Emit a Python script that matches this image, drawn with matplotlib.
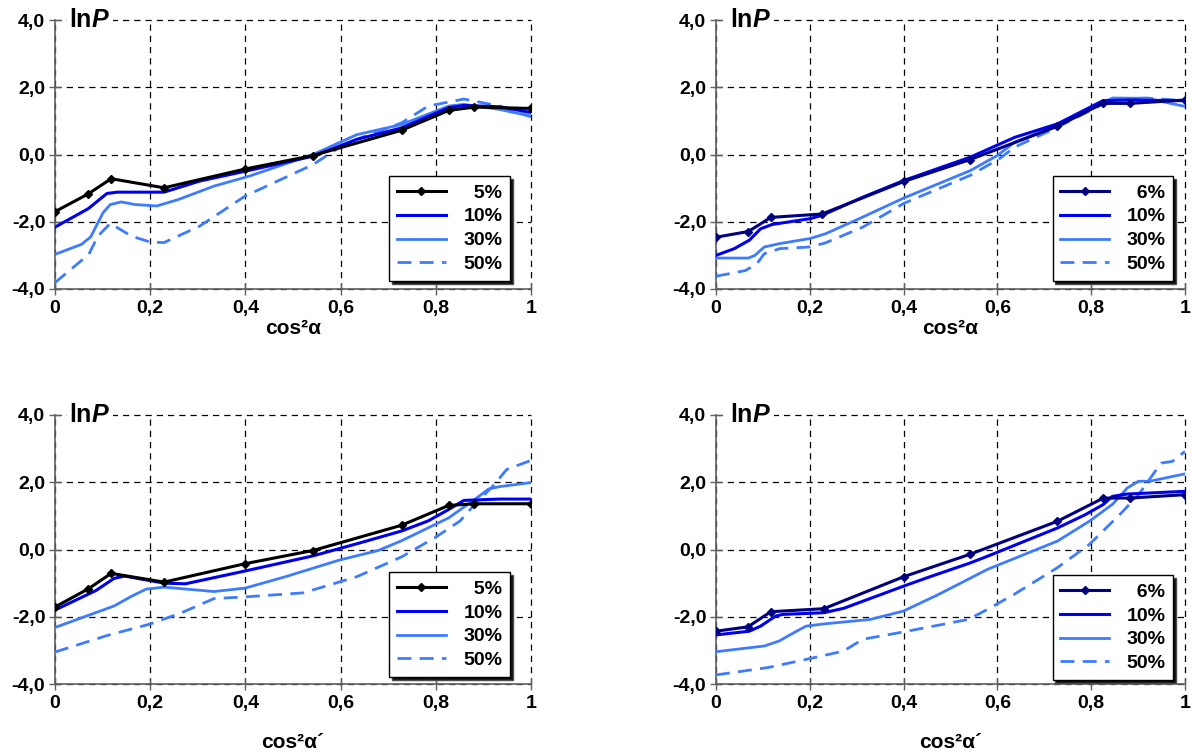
import numpy as np
import matplotlib
matplotlib.use("Agg")
import matplotlib.pyplot as plt

plt.rcParams['font.family'] = ['Liberation Sans', 'DejaVu Sans']
plt.rcParams['font.weight'] = 'bold'
plt.rcParams['mathtext.fontset'] = 'custom'
plt.rcParams['mathtext.bf'] = 'Liberation Sans:bold'
plt.rcParams['mathtext.bfit'] = 'Liberation Sans:bold:italic'

# marker positions of the first series (cos^2 of the measured angles)
mx = [0, 0.070, 0.118, 0.229, 0.400, 0.542, 0.728, 0.827, 0.881, 1.0]

# top left
tl_y5 = [-1.70, -1.17, -0.72, -0.99, -0.43, -0.03, 0.72, 1.31, 1.41, 1.37]
tl_x10 = [0, 0.070, 0.109, 0.131, 0.229, 0.304, 0.399, 0.542, 0.634, 0.728, 0.827, 0.859, 0.934, 1.0]
tl_y10 = [-2.16, -1.61, -1.16, -1.12, -1.12, -0.79, -0.50, -0.05, 0.45, 0.79, 1.39, 1.46, 1.42, 1.25]
tl_x30 = [0, 0.056, 0.075, 0.101, 0.116, 0.139, 0.169, 0.214, 0.259, 0.334, 0.409, 0.542, 0.634, 0.728, 0.827, 0.859, 0.934, 1.0]
tl_y30 = [-2.97, -2.67, -2.45, -1.73, -1.49, -1.41, -1.49, -1.53, -1.34, -0.94, -0.64, 0.0, 0.59, 0.89, 1.44, 1.49, 1.34, 1.14]
tl_x50 = [0, 0.071, 0.090, 0.116, 0.161, 0.199, 0.229, 0.304, 0.399, 0.542, 0.596, 0.634, 0.728, 0.784, 0.859, 0.934, 1.0]
tl_y50 = [-3.81, -2.97, -2.43, -2.05, -2.43, -2.60, -2.62, -2.13, -1.24, -0.30, 0.20, 0.45, 0.94, 1.44, 1.65, 1.44, 1.12]

# top right
tr_mx = [0, 0.069, 0.117, 0.226, 0.401, 0.542, 0.728, 0.825, 0.883, 1.0]
tr_y6 = [-2.46, -2.29, -1.87, -1.77, -0.80, -0.15, 0.84, 1.52, 1.52, 1.62]
tr_x10 = [0, 0.039, 0.071, 0.095, 0.120, 0.200, 0.226, 0.313, 0.401, 0.542, 0.637, 0.728, 0.825, 0.879, 1.0]
tr_y10 = [-3.0, -2.80, -2.55, -2.21, -2.08, -1.91, -1.81, -1.27, -0.77, -0.08, 0.51, 0.91, 1.60, 1.62, 1.60]
tr_x30 = [0, 0.069, 0.083, 0.103, 0.136, 0.200, 0.233, 0.313, 0.401, 0.542, 0.600, 0.637, 0.728, 0.825, 0.846, 0.918, 1.0]
tr_y30 = [-3.08, -3.08, -3.0, -2.75, -2.65, -2.50, -2.36, -1.86, -1.29, -0.48, -0.03, 0.37, 0.86, 1.55, 1.68, 1.67, 1.43]
tr_x50 = [0, 0.063, 0.087, 0.103, 0.136, 0.200, 0.233, 0.313, 0.401, 0.542, 0.604, 0.637, 0.728, 0.825, 0.846, 0.918, 1.0]
tr_y50 = [-3.62, -3.45, -3.25, -2.95, -2.80, -2.75, -2.63, -2.16, -1.45, -0.62, -0.13, 0.22, 0.81, 1.50, 1.64, 1.68, 1.60]

# bottom left
bl_y5 = [-1.71, -1.17, -0.71, -0.97, -0.42, -0.03, 0.72, 1.31, 1.36, 1.36]
bl_x10 = [0, 0.086, 0.124, 0.146, 0.229, 0.274, 0.399, 0.542, 0.634, 0.728, 0.784, 0.827, 0.859, 0.934, 1.0]
bl_y10 = [-1.80, -1.22, -0.86, -0.79, -1.00, -1.02, -0.64, -0.19, 0.17, 0.55, 0.85, 1.19, 1.46, 1.50, 1.50]
bl_x30 = [0, 0.124, 0.161, 0.191, 0.229, 0.334, 0.399, 0.484, 0.596, 0.679, 0.728, 0.827, 0.881, 0.911, 0.934, 1.0]
bl_y30 = [-2.32, -1.68, -1.39, -1.18, -1.12, -1.25, -1.15, -0.81, -0.32, -0.03, 0.26, 0.94, 1.48, 1.80, 1.87, 1.99]
bl_x50 = [0, 0.109, 0.199, 0.266, 0.334, 0.399, 0.521, 0.634, 0.728, 0.799, 0.851, 0.881, 0.919, 0.949, 1.0]
bl_y50 = [-3.05, -2.56, -2.22, -1.88, -1.46, -1.41, -1.29, -0.81, -0.22, 0.36, 0.85, 1.33, 1.87, 2.38, 2.65]

# bottom right
br_mx = [0, 0.068, 0.117, 0.230, 0.400, 0.542, 0.728, 0.826, 0.882, 1.0]
br_y6 = [-2.43, -2.30, -1.85, -1.76, -0.81, -0.14, 0.84, 1.53, 1.53, 1.63]
br_x10 = [0, 0.071, 0.095, 0.127, 0.143, 0.230, 0.272, 0.400, 0.450, 0.542, 0.579, 0.728, 0.788, 0.826, 0.845, 0.877, 1.0]
br_y10 = [-2.54, -2.43, -2.28, -1.98, -1.93, -1.88, -1.75, -1.09, -0.84, -0.40, -0.20, 0.64, 1.04, 1.34, 1.58, 1.65, 1.73]
br_x30 = [0, 0.103, 0.135, 0.160, 0.192, 0.232, 0.329, 0.400, 0.474, 0.579, 0.728, 0.796, 0.845, 0.877, 0.901, 0.925, 1.0]
br_y30 = [-3.04, -2.87, -2.72, -2.52, -2.28, -2.21, -2.08, -1.83, -1.34, -0.59, 0.25, 0.84, 1.34, 1.83, 2.03, 2.03, 2.25]
br_x50 = [0, 0.111, 0.192, 0.272, 0.313, 0.400, 0.538, 0.579, 0.635, 0.728, 0.796, 0.861, 0.901, 0.949, 0.973, 1.0]
br_y50 = [-3.73, -3.51, -3.27, -3.02, -2.67, -2.45, -2.08, -1.78, -1.34, -0.54, 0.15, 1.04, 1.63, 2.57, 2.62, 2.92]

xticks = [0, 0.2, 0.4, 0.6, 0.8, 1.0]
xtick_labels = ['0', '0,2', '0,4', '0,6', '0,8', '1']
yticks = [-4, -2, 0, 2, 4]
ytick_labels = ['-4,0', '-2,0', '0,0', '2,0', '4,0']

c_first_l = '#000000'
c_first_r = '#000080'
c10 = '#0000f0'
c30 = '#3d7bff'

fig = plt.figure(figsize=(11.92, 7.54), dpi=100)
W, H = 1192, 754


def make_ax(x0, x1, y0, y1):
    return fig.add_axes([x0 / W, 1 - y1 / H, (x1 - x0) / W, (y1 - y0) / H])


def draw(ax, fx, fy, first_lbl, first_col, x10, y10, x30, y30, x50, y50, xlabel, lpad, leg_anchor):
    ax.plot(fx, fy, color=first_col, lw=2.2, marker='D', ms=4.5, label='  ' + first_lbl, zorder=5)
    ax.plot(x10, y10, color=c10, lw=2.2, label='10%', zorder=4)
    ax.plot(x30, y30, color=c30, lw=2.0, label='30%', zorder=3)
    ax.plot(x50, y50, color=c30, lw=2.0, ls=(0, (5, 3)), label='50%', zorder=3)
    ax.set_xlim(0, 1)
    ax.set_ylim(-4, 4)
    ax.set_xticks(xticks)
    ax.set_xticklabels(xtick_labels)
    ax.set_yticks(yticks)
    ax.set_yticklabels(ytick_labels)
    ax.tick_params(direction='inout', length=8, width=1, color='#606060', labelsize=14, pad=3)
    ax.tick_params(axis='x', pad=4)
    for lbl in ax.get_xticklabels() + ax.get_yticklabels():
        lbl.set_fontweight('bold')
    ax.grid(True, color='black', ls=(0, (5, 4)), lw=0.9)
    for gl in ax.get_xgridlines() + ax.get_ygridlines():
        gl.set_clip_on(False)
    for s in ['top', 'right']:
        ax.spines[s].set_visible(False)
    for s in ['left', 'bottom']:
        ax.spines[s].set_color('#606060')
        ax.spines[s].set_linewidth(1.2)
    ax.set_xlabel(xlabel, fontsize=15, fontweight='bold', labelpad=lpad)
    ax.text(0.03, 4, r'$\mathbf{ln}\mathbfit{P}$', fontsize=18, va='center', ha='left',
            transform=ax.transData, zorder=10,
            bbox=dict(facecolor='white', edgecolor='none', pad=2))
    leg = ax.legend(loc='lower right', bbox_to_anchor=leg_anchor, frameon=True, fancybox=False,
                    shadow={'facecolor': '#111111', 'alpha': 1}, edgecolor='black', framealpha=1,
                    prop=dict(size=14, weight='bold'),
                    handlelength=2.5, handletextpad=0.9, labelspacing=0.32, borderpad=0.4,
                    borderaxespad=0)
    leg.get_frame().set_linewidth(1.0)
    leg.set_zorder(20)


ax1 = make_ax(55, 531, 20, 289)
draw(ax1, mx, tl_y5, '5%', c_first_l, tl_x10, tl_y10, tl_x30, tl_y30, tl_x50, tl_y50,
     'cos²α', 1, (0.956, 0.03))
ax2 = make_ax(716, 1185, 20, 289)
draw(ax2, tr_mx, tr_y6, '6%', c_first_r, tr_x10, tr_y10, tr_x30, tr_y30, tr_x50, tr_y50,
     'cos²α', 1, (0.975, 0.03))
ax3 = make_ax(55, 531, 415, 684)
draw(ax3, mx, bl_y5, '5%', c_first_l, bl_x10, bl_y10, bl_x30, bl_y30, bl_x50, bl_y50,
     'cos²α´', 15, (0.956, 0.026))
ax4 = make_ax(716, 1185, 415, 684)
draw(ax4, br_mx, br_y6, '6%', c_first_r, br_x10, br_y10, br_x30, br_y30, br_x50, br_y50,
     'cos²α´', 15, (0.975, 0.015))

fig.savefig('out.png', dpi=100)
